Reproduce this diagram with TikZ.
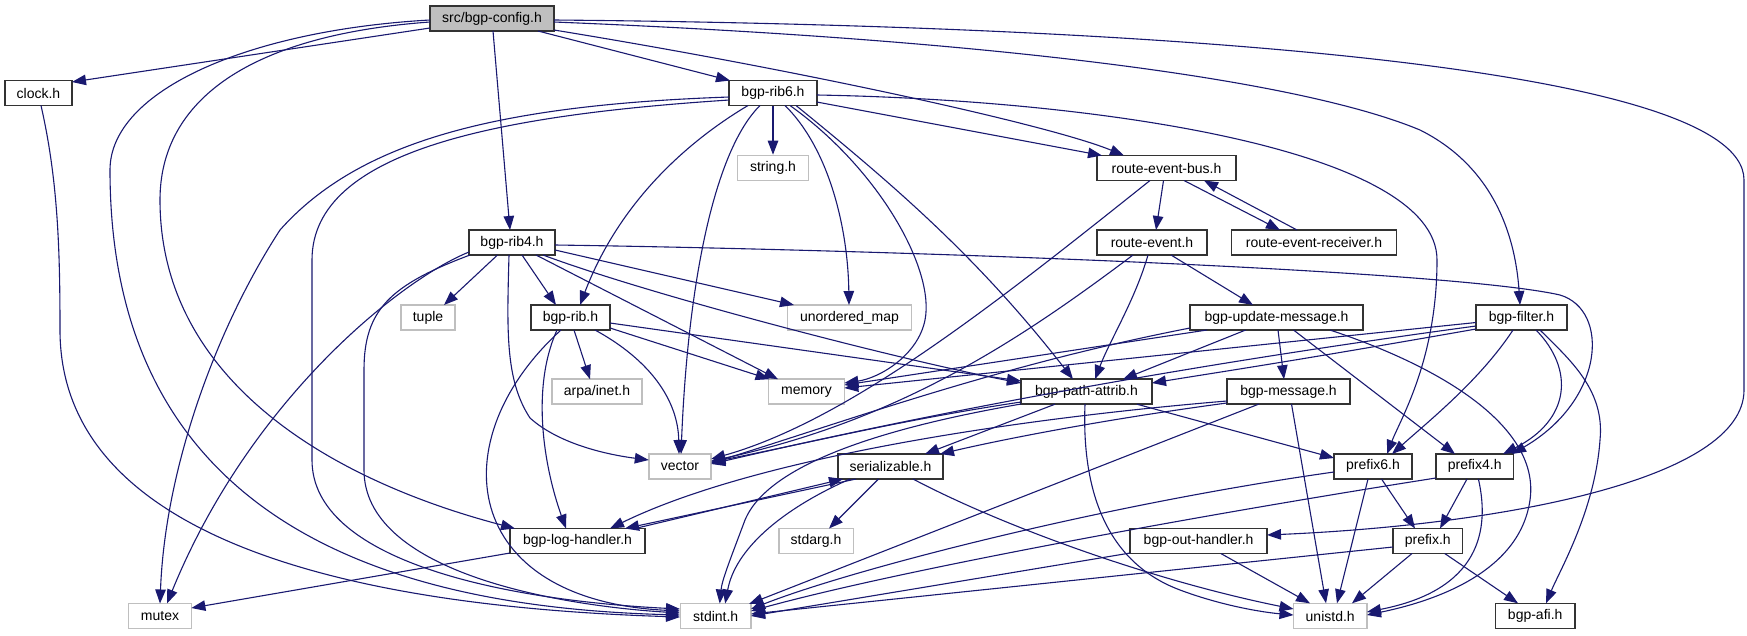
\documentclass[tikz,border=0pt]{standalone}
\usepackage{fontspec}
\setmainfont{Liberation Sans}
\usetikzlibrary{arrows.meta,calc}
\definecolor{edgec}{HTML}{191970}
\definecolor{lgray}{HTML}{BFBFBF}
\definecolor{dgray}{HTML}{333333}
\begin{document}
\begin{tikzpicture}[x=1pt,y=-1pt,
  box/.style={draw=dgray,line width=1.6pt,fill=white,minimum height=25pt,inner sep=0pt,font=\fontsize{14}{16}\selectfont},
  sys/.style={box,draw=lgray},
  root/.style={box,fill=lgray},
  dep/.style={draw=edgec,line width=1.1pt,-{Triangle[length=14pt,width=10.5pt]}}]
\useasboundingbox[fill=white] (0,0) rectangle (1747,635);
% nodes
\node[root,minimum width=124pt] (config) at (492,18.5) {src/bgp-config.h};
\node[box,minimum width=67pt] (clock) at (38.5,93) {clock.h};
\node[box,minimum width=87.5pt] (rib6) at (773,93) {bgp-rib6.h};
\node[sys,minimum width=71pt] (string) at (773,168) {string.h};
\node[box,minimum width=139pt] (reb) at (1166.5,168) {route-event-bus.h};
\node[box,minimum width=86pt] (rib4) at (512,242.5) {bgp-rib4.h};
\node[box,minimum width=110pt] (re) at (1152,242.5) {route-event.h};
\node[box,minimum width=165pt] (rer) at (1314,242.5) {route-event-receiver.h};
\node[sys,minimum width=54pt] (tuple) at (428,317.5) {tuple};
\node[box,minimum width=79pt] (rib) at (570.5,317.5) {bgp-rib.h};
\node[sys,minimum width=124pt] (umap) at (849.5,317.5) {unordered\_map};
\node[box,minimum width=173pt] (upd) at (1276.5,317.5) {bgp-update-message.h};
\node[box,minimum width=91pt] (filter) at (1521.5,317.5) {bgp-filter.h};
\node[sys,minimum width=90.5pt] (arpa) at (597,391.7) {arpa/inet.h};
\node[sys,minimum width=75.7pt] (memory) at (806.5,391.7) {memory};
\node[box,minimum width=131pt] (pa) at (1086.5,391.7) {bgp-path-attrib.h};
\node[box,minimum width=123.3pt] (msg) at (1288.5,391.7) {bgp-message.h};
\node[sys,minimum width=62.4pt] (vector) at (680,466.3) {vector};
\node[box,minimum width=104.5pt] (ser) at (890.5,466.3) {serializable.h};
\node[box,minimum width=78pt] (p6) at (1373,466.3) {prefix6.h};
\node[box,minimum width=77.7pt] (p4) at (1474.7,466.3) {prefix4.h};
\node[box,minimum width=135.3pt] (log) at (577.5,541) {bgp-log-handler.h};
\node[sys,minimum width=74.6pt] (stdarg) at (816,541) {stdarg.h};
\node[box,minimum width=136.7pt] (out) at (1198.6,541) {bgp-out-handler.h};
\node[box,minimum width=69.7pt] (prefix) at (1427.8,541) {prefix.h};
\node[sys,minimum width=62.8pt] (mutex) at (160,616) {mutex};
\node[sys,minimum width=70.7pt] (stdint) at (715.7,616) {stdint.h};
\node[sys,minimum width=73.5pt] (unistd) at (1330.2,616) {unistd.h};
\node[box,minimum width=79.2pt] (afi) at (1535.2,616) {bgp-afi.h};
% config
\draw[dep] ($(config)+(-62,9.5)$) -- ($(clock)+(33.5,-11)$);
\draw[dep] ($(config)+(-62,1.5)$) .. controls (250,30) and (110,90) .. (110,170) .. controls (110,540) and (420,608) .. ($(stdint)+(-35.7,-1)$);
\draw[dep] ($(config)+(-62,3.5)$) .. controls (250,35) and (160,100) .. (160,200) .. controls (160,380) and (330,480) .. ($(log)+(-62.5,-12.5)$);
\draw[dep] ($(config)+(1,12.5)$) -- ($(rib4)+(-2,-12.5)$);
\draw[dep] ($(config)+(46,12.5)$) -- ($(rib6)+(-43,-12.5)$);
\draw[dep] ($(config)+(62,11.5)$) .. controls (800,70) and (1050,125) .. ($(reb)+(-42.5,-12.5)$);
\draw[dep] ($(config)+(62,3.5)$) .. controls (1000,40) and (1300,80) .. (1420,130) .. controls (1490,165) and (1515,230) .. ($(filter)+(-1.5,-12.5)$);
\draw[dep] ($(config)+(62,1.5)$) .. controls (1100,25) and (1744,60) .. (1744,180) -- (1744,390) .. controls (1744,480) and (1500,525) .. ($(out)+(68.4,-6)$);
% clock
\draw[dep] ($(clock)+(2.5,12.5)$) .. controls (58,180) and (60,250) .. (60,330) .. controls (60,520) and (300,605) .. ($(stdint)+(-35.7,1)$);
% rib6
\draw[dep] ($(rib6)+(-43.75,4)$) .. controls (500,105) and (360,140) .. (280,230) .. controls (215,330) and (165,470) .. ($(mutex)+(0,-12.5)$);
\draw[dep] ($(rib6)+(-43.75,7)$) .. controls (500,115) and (312,150) .. (312,260) -- (312,460) .. controls (312,560) and (500,600) .. ($(stdint)+(-35.7,-7)$);
\draw[dep] ($(rib6)+(-25,12.5)$) .. controls (690,140) and (620,200) .. ($(rib)+(9.5,-12.5)$);
\draw[dep] ($(rib6)+(-13,12.5)$) .. controls (715,150) and (688,280) .. ($(vector)+(1,-12.3)$);
\draw[dep] (rib6.south) -- (string.north);
\draw[dep] ($(rib6)+(12,12.5)$) .. controls (830,150) and (848,230) .. ($(umap)+(-0.5,-12.5)$);
\draw[dep] ($(rib6)+(17,12.5)$) .. controls (880,170) and (935,270) .. (925,320) .. controls (918,355) and (880,378) .. ($(memory)+(37.85,-8.7)$);
\draw[dep] ($(rib6)+(23,12.5)$) .. controls (900,190) and (980,260) .. ($(pa)+(-13.5,-12.5)$);
\draw[dep] ($(rib6)+(43.75,2)$) .. controls (1100,100) and (1437,150) .. (1437,260) .. controls (1437,360) and (1400,420) .. ($(p6)+(14,-12.3)$);
\draw[dep] ($(rib6)+(43.75,9)$) -- ($(reb)+(-64.5,-12.5)$);
% rib4
\draw[dep] ($(rib4)+(-43,9.5)$) .. controls (400,280) and (250,400) .. ($(mutex)+(7,-12.5)$);
\draw[dep] ($(rib4)+(-42,12.5)$) .. controls (390,285) and (364,310) .. (364,370) -- (364,470) .. controls (364,570) and (550,605) .. ($(stdint)+(-35.7,-3)$);
\draw[dep] ($(rib4)+(-14.5,12.5)$) -- ($(tuple)+(16,-12.5)$);
\draw[dep] ($(rib4)+(-3,12.5)$) .. controls (507,330) and (505,380) .. (530,418) .. controls (560,445) and (610,455) .. ($(vector)+(-31.2,-6.3)$);
\draw[dep] ($(rib4)+(10,12.5)$) -- ($(rib)+(-14.5,-12.5)$);
\draw[dep] ($(rib4)+(43,7.5)$) -- ($(umap)+(-55.5,-12.5)$);
\draw[dep] ($(rib4)+(24,12.5)$) -- ($(memory)+(-28.5,-12.5)$);
\draw[dep] ($(rib4)+(31,12.5)$) .. controls (650,295) and (900,360) .. ($(pa)+(-65.5,-8.7)$);
\draw[dep] ($(rib4)+(43,2.5)$) .. controls (900,250) and (1450,270) .. (1560,295) .. controls (1610,310) and (1605,400) .. ($(p4)+(37.3,-12.3)$);
% route-event-bus, route-event, receiver
\draw[dep] ($(reb)+(-16.5,12.5)$) .. controls (1000,300) and (850,420) .. ($(vector)+(31.2,-7.3)$);
\draw[dep] ($(reb)+(-3,12.5)$) -- ($(re)+(4,-12.5)$);
\draw[dep] ($(reb)+(17.5,12.5)$) -- ($(rer)+(-34,-12.5)$);
\draw[dep] ($(rer)+(-17,-12.5)$) -- ($(reb)+(37.5,12.5)$);
\draw[dep] ($(re)+(-19,12.5)$) .. controls (1020,340) and (900,420) .. ($(vector)+(31.2,-5.3)$);
\draw[dep] ($(re)+(-4,12.5)$) .. controls (1135,300) and (1110,340) .. ($(pa)+(8.5,-12.5)$);
\draw[dep] ($(re)+(19,12.5)$) -- ($(upd)+(-23.5,-12.5)$);
% bgp-rib
\draw[dep] ($(rib)+(3.5,12.5)$) -- ($(arpa)+(-7,-12.5)$);
\draw[dep] ($(rib)+(24.5,12.5)$) .. controls (650,360) and (678,400) .. ($(vector)+(-1,-12.3)$);
\draw[dep] ($(rib)+(39.5,10.5)$) -- ($(memory)+(-37,-12.5)$);
\draw[dep] ($(rib)+(39.5,5.5)$) -- ($(pa)+(-65.5,-10.7)$);
\draw[dep] ($(rib)+(-13.5,12.5)$) .. controls (530,390) and (545,470) .. ($(log)+(-11.5,-12.5)$);
\draw[dep] ($(rib)+(-9.5,12.5)$) .. controls (440,440) and (460,600) .. ($(stdint)+(-35.7,-5)$);
% bgp-update-message
\draw[dep] ($(upd)+(-69.5,12.5)$) -- ($(memory)+(37.85,-6.7)$);
\draw[dep] ($(upd)+(-86.5,10.5)$) .. controls (1000,365) and (850,420) .. ($(vector)+(31.2,-3.3)$);
\draw[dep] ($(upd)+(-30.8,12.5)$) -- ($(pa)+(36.5,-12.5)$);
\draw[dep] ($(upd)+(1.5,12.5)$) -- ($(msg)+(-4.5,-12.5)$);
\draw[dep] ($(upd)+(17,12.5)$) -- ($(p4)+(-19.7,-12.3)$);
\draw[dep] ($(upd)+(53.5,12.5)$) .. controls (1450,370) and (1540,430) .. (1530,500) .. controls (1520,570) and (1440,600) .. ($(unistd)+(36.75,-1)$);
% bgp-filter
\draw[dep] ($(filter)+(-45.5,5)$) -- ($(memory)+(37.85,-3.7)$);
\draw[dep] ($(filter)+(-45.5,8.5)$) .. controls (1150,370) and (900,420) .. ($(vector)+(31.2,-2.3)$);
\draw[dep] ($(filter)+(-45.5,11.5)$) .. controls (1300,360) and (1220,372) .. ($(pa)+(65.5,-8.7)$);
\draw[dep] ($(filter)+(-8.5,12.5)$) .. controls (1480,380) and (1430,420) .. ($(p6)+(19,-12.3)$);
\draw[dep] ($(filter)+(14.5,12.5)$) .. controls (1575,370) and (1570,420) .. ($(p4)+(28.3,-12.3)$);
\draw[dep] ($(filter)+(18.5,12.5)$) .. controls (1570,360) and (1605,390) .. (1600,440) .. controls (1595,510) and (1560,570) .. ($(afi)+(10.8,-12.7)$);
% bgp-path-attrib
\draw[dep] ($(pa)+(-65.5,10.3)$) .. controls (900,420) and (800,445) .. ($(vector)+(31.2,-4.3)$);
\draw[dep] ($(pa)+(-65.5,12.3)$) .. controls (900,425) and (770,460) .. (745,520) .. controls (730,560) and (722,580) .. ($(stdint)+(4,-12.5)$);
\draw[dep] ($(pa)+(-31.5,12.5)$) -- ($(ser)+(34.5,-12.3)$);
\draw[dep] ($(pa)+(50.5,12.5)$) -- ($(p6)+(-39,-8.3)$);
\draw[dep] ($(pa)+(-1.5,12.5)$) .. controls (1082,480) and (1100,560) .. (1180,590) .. controls (1220,605) and (1260,612) .. ($(unistd)+(-36.7,-1)$);
% bgp-message
\draw[dep] ($(msg)+(-61.65,9.3)$) .. controls (1000,420) and (750,460) .. ($(log)+(32.5,-12.5)$);
\draw[dep] ($(msg)+(-61.65,11.3)$) .. controls (1100,420) and (1000,440) .. ($(ser)+(49.5,-12.3)$);
\draw[dep] ($(msg)+(-29.5,12.3)$) -- ($(stdint)+(33.3,-12)$);
\draw[dep] ($(msg)+(3,12.3)$) -- ($(unistd)+(-4.2,-12.7)$);
% serializable, log handler
\draw[dep] ($(ser)+(-34.5,12.7)$) -- ($(log)+(47.5,-12.5)$);
\draw[dep] ($(log)+(57.5,-12.5)$) -- ($(ser)+(-47.5,12.7)$);
\draw[dep] ($(ser)+(-12,12.7)$) -- ($(stdarg)+(13,-12.5)$);
\draw[dep] ($(ser)+(-40.5,12.7)$) .. controls (780,510) and (735,550) .. ($(stdint)+(9.5,-12.5)$);
\draw[dep] ($(ser)+(22.5,12.7)$) .. controls (1000,525) and (1150,580) .. ($(unistd)+(-36.7,-7)$);
\draw[dep] ($(log)+(-67.5,12)$) -- ($(mutex)+(31.4,-8)$);
% prefix6, prefix4, prefix, out handler
\draw[dep] ($(p6)+(-39,5.7)$) .. controls (1100,505) and (850,570) .. ($(stdint)+(35.35,-7)$);
\draw[dep] ($(p6)+(-5,12.7)$) -- ($(unistd)+(6.8,-12.7)$);
\draw[dep] ($(p6)+(8.5,12.7)$) -- ($(prefix)+(-12.8,-12.5)$);
\draw[dep] ($(p4)+(-38.85,11.7)$) .. controls (1200,515) and (900,570) .. ($(stdint)+(35.35,-5)$);
\draw[dep] ($(p4)+(-7.7,12.7)$) -- ($(prefix)+(12.2,-12.5)$);
\draw[dep] ($(p4)+(3.7,12.7)$) .. controls (1490,530) and (1480,590) .. ($(unistd)+(36.75,-4)$);
\draw[dep] ($(prefix)+(-34.85,6)$) -- ($(stdint)+(35.35,-2)$);
\draw[dep] ($(prefix)+(-15.8,12.5)$) -- ($(unistd)+(21.8,-12.7)$);
\draw[dep] ($(prefix)+(16.9,12.5)$) -- ($(afi)+(-17.2,-12.7)$);
\draw[dep] ($(out)+(-68.35,12)$) -- ($(stdint)+(35.35,0)$);
\draw[dep] ($(out)+(22.2,12.5)$) -- ($(unistd)+(-20.2,-12.7)$);
\end{tikzpicture}
\end{document}
